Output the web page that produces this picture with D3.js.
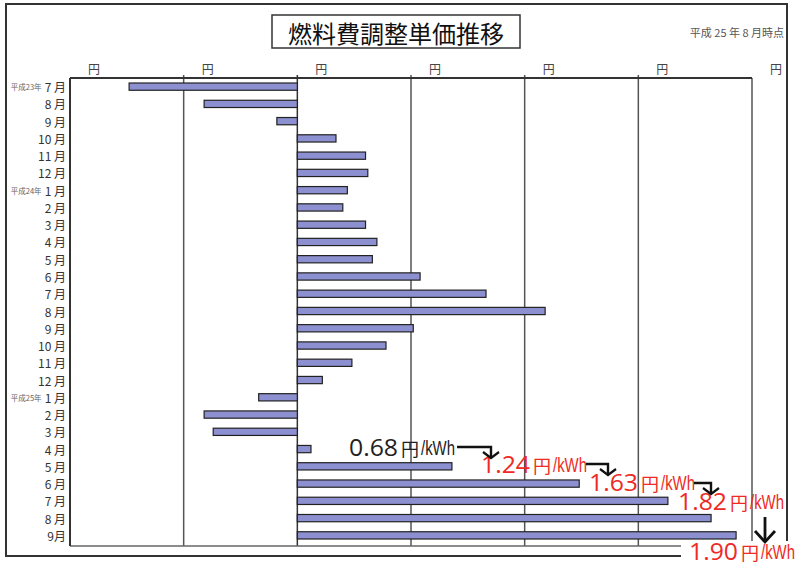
<!DOCTYPE html>
<html><head><meta charset="utf-8">
<script src="https://cdn.jsdelivr.net/npm/d3@7/dist/d3.min.js"></script>
<style>body{margin:0;background:#fff}svg{display:block}</style>
</head><body><svg id="c" width="800" height="566"></svg>
<script>
const categories = ["平成23年7月","8月","9月","10月","11月","12月","平成24年1月","2月","3月","4月","5月","6月","7月","8月","9月","10月","11月","12月","平成25年1月","2月","3月","4月","5月","6月","7月","8月","9月"];
const values = [-0.74,-0.41,-0.09,0.17,0.30,0.31,0.22,0.20,0.30,0.35,0.33,0.54,0.83,1.09,0.51,0.39,0.24,0.11,-0.17,-0.41,-0.37,0.06,0.68,1.24,1.63,1.82,1.93];
const tickValues = [-1,-0.5,0,0.5,1,1.5,2];
const tickLabel = "円";
const title = "燃料費調整単価推移";
const asOf = "平成 25 年 8 月時点";
const annotValues = ["0.68","1.24","1.63","1.82","1.90"];
const annotUnit = "円";
const annotSuffix = "/kWh";

const svg = d3.select("#c");
const L = 70, R = 752, T = 78, B = 546;
const x = d3.scaleLinear().domain([-1, 2]).range([L, R]);
const y = d3.scaleBand().domain(d3.range(categories.length)).range([T, 544]).paddingInner(0.58).paddingOuter(0.29);

// outer frame
svg.append("rect").attr("x",6).attr("y",4).attr("width",781).attr("height",552)
  .attr("fill","#fff").attr("stroke","#333").attr("stroke-width",2);

// title box
svg.append("rect").attr("x",272).attr("y",15).attr("width",248).attr("height",33)
  .attr("fill","#fff").attr("stroke","#333").attr("stroke-width",1.5);
svg.append("text").attr("x",396).attr("y",32).attr("text-anchor","middle").attr("dominant-baseline","central")
  .attr("font-family","Noto Sans CJK JP").attr("font-size",24).attr("font-weight",400).attr("fill","#111").text(title);
svg.append("text").attr("x",784).attr("y",37).attr("text-anchor","end")
  .attr("font-family","Noto Sans CJK JP").attr("font-size",11).attr("fill","#555").text(asOf);

// gridlines
svg.append("g").selectAll("line").data(tickValues.filter(v => v > -1 && v < 2)).join("line")
  .attr("x1", d => x(d)).attr("x2", d => x(d)).attr("y1", T - 3).attr("y2", B)
  .attr("stroke", d => d === 0 ? "#333" : "#555").attr("stroke-width", 1.5);

// plot frame
svg.append("line").attr("x1",L).attr("x2",R).attr("y1",B).attr("y2",B).attr("stroke","#666").attr("stroke-width",1.5);
svg.append("line").attr("x1",R).attr("x2",R).attr("y1",T).attr("y2",B).attr("stroke","#555").attr("stroke-width",1.5);
svg.append("line").attr("x1",L).attr("x2",L).attr("y1",T).attr("y2",B).attr("stroke","#333").attr("stroke-width",2);
svg.append("line").attr("x1",L).attr("x2",R).attr("y1",T).attr("y2",T).attr("stroke","#333").attr("stroke-width",2);

// tick labels
svg.append("g").selectAll("text").data(tickValues).join("text")
  .attr("x", d => x(d) + 24).attr("y", 68).attr("text-anchor","middle").attr("dominant-baseline","central")
  .attr("font-family","Noto Sans CJK JP").attr("font-size",12).attr("fill","#444").text(tickLabel);

// bars
svg.append("g").selectAll("rect").data(values).join("rect")
  .attr("x", d => x(Math.min(0, d))).attr("width", d => Math.abs(x(d) - x(0)))
  .attr("y", (d,i) => y(i)).attr("height", y.bandwidth())
  .attr("fill","#8c90d0").attr("stroke","#222").attr("stroke-width",1.2);

// y labels
const yl = svg.append("g");
categories.forEach((c,i) => {
  const m = c.match(/^(平成\d+年)?(\d+)月$/);
  const cy = y(i) + y.bandwidth()/2;
  const main = (i === categories.length-1) ? m[2] + "月" : m[2] + " 月";
  const t = yl.append("text").attr("x",66).attr("y",cy).attr("text-anchor","end").attr("dominant-baseline","central")
    .attr("font-family","Noto Sans CJK JP").attr("font-size",12).attr("fill","#333").text(main);
  if (m[1]) {
    const w = t.node().getComputedTextLength();
    yl.append("text").attr("x",66 - w - 3).attr("y",cy).attr("text-anchor","end").attr("dominant-baseline","central")
      .attr("font-family","Noto Sans CJK JP").attr("font-size",8).attr("fill","#666")
      .attr("textLength",31).attr("lengthAdjust","spacingAndGlyphs").text(m[1]);
  }
});

// white patch behind last label
svg.append("rect").attr("x",681).attr("y",541).attr("width",119).attr("height",25).attr("fill","#fff");

// annotations
const annotPos = [[349,456],[481,473],[589,491],[678,510],[689,560]];
annotValues.forEach((v,i) => {
  const [ax, ay] = annotPos[i];
  const col = i === 0 ? "#222" : "#ee2a24";
  const g = svg.append("g").attr("fill", col);
  g.append("text").attr("x",ax).attr("y",ay).attr("font-family","Open Sans").attr("font-size",23)
    .attr("textLength",49).attr("lengthAdjust","spacingAndGlyphs").text(v);
  g.append("text").attr("x",ax+52).attr("y",ay).attr("font-family","Noto Sans CJK JP").attr("font-size",18).text(annotUnit);
  g.append("text").attr("x",ax+72).attr("y",ay-1).attr("font-family","Liberation Sans").attr("font-size",20)
    .attr("textLength",34).attr("lengthAdjust","spacingAndGlyphs").text(annotSuffix);
});

// elbow arrows
const elbows = [[457,491,447],[586,608,464],[694,711,483]];
elbows.forEach(([x1,x2,yy]) => {
  svg.append("path").attr("d",`M${x1},${yy}H${x2}V${yy+10}`).attr("fill","none").attr("stroke","#111").attr("stroke-width",2.4);
  svg.append("path").attr("d",`M${x2-8},${yy+5}L${x2},${yy+11}L${x2+8},${yy+5}`).attr("fill","none").attr("stroke","#111").attr("stroke-width",2.2);
});
svg.append("path").attr("d","M765,517V541").attr("stroke","#111").attr("stroke-width",2.8);
svg.append("path").attr("d","M755,531L765,542L775,531").attr("fill","none").attr("stroke","#111").attr("stroke-width",2.8);
</script></body></html>
